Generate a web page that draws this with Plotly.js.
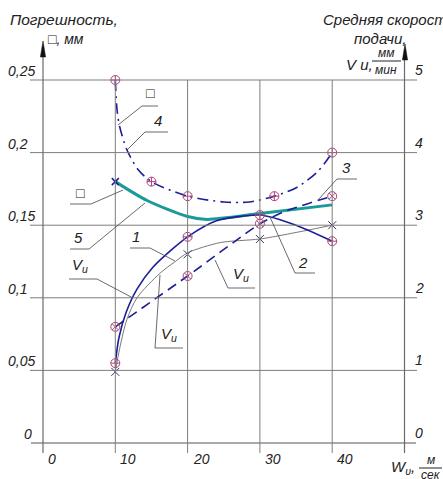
<!DOCTYPE html>
<html><head><meta charset="utf-8">
<script src="https://cdn.plot.ly/plotly-3.0.1.min.js"></script>
<style>html,body{margin:0;padding:0;background:#fff}#c{width:443px;height:479px}</style>
</head><body><div id="c"></div>
<script>
// ---- data ----
const xTicks = [0, 10, 20, 30, 40];
const xTickLabels = ['0', '10', '20', '30', '40'];
const errTicks = [0, 0.05, 0.1, 0.15, 0.2, 0.25];
const errTickLabels = ['0', '0,05', '0,1', '0,15', '0,2', '0,25'];
const velTickLabels = ['0', '1', '2', '3', '4', '5'];

// measured points (markers)
const wPts = [10, 20, 30, 40];
const v1Pts = [0.98, 2.6, 2.81, 3.0];   // curve 1, Vu
const v2Pts = [1.1, 2.84, 3.14, 2.78];  // curve 2, Vu
const v3Pts = [1.6, 2.3, 3.02, 3.4];    // curve 3, Vu
const d4W = [10, 15, 20, 32, 40];
const d4Pts = [0.25, 0.18, 0.17, 0.17, 0.2]; // curve 4, error
const d5W = [10];
const d5Pts = [0.18];                  // curve 5 start

// traced curve shapes
const v1LineW = [10, 10.6, 11.6, 13, 16.2, 18.3, 20, 24.5, 30, 35, 40];
const v1LineV = [0.98, 1.3, 1.7, 2.0, 2.34, 2.5, 2.62, 2.76, 2.81, 2.9, 3.0];
const v2LineW = [10, 10.5, 11.5, 13, 15.2, 18, 20, 24, 30, 35, 40];
const v2LineV = [1.1, 1.45, 1.8, 2.12, 2.42, 2.68, 2.84, 3.06, 3.14, 3.0, 2.78];
const v3LineW = [10, 20, 30, 33.2, 35.5, 38, 40];
const v3LineV = [1.6, 2.3, 3.02, 3.18, 3.26, 3.34, 3.4];
const d4LineW = [10, 10.25, 10.6, 11.6, 13.2, 15, 20, 25, 28.5, 32, 35.1, 38, 40];
const d4LineD = [0.25, 0.229, 0.218, 0.202, 0.188, 0.18, 0.17, 0.166, 0.166, 0.17, 0.176, 0.187, 0.2];
const d5LineW = [10, 14.4, 20, 22.7, 30, 40];
const d5LineD = [0.18, 0.167, 0.156, 0.154, 0.158, 0.164];

// ---- styling ----
const BLUE = '#1c1f96', TEAL = '#1a9a98', THIN = '#555555', MK = '#b0407a', GRID = '#7d7d7d', TXT = '#222';
const FONT = 'Liberation Sans, Arial, sans-serif';
const W = 443, H = 479;
const PX = p => p / W, PY = p => 1 - p / H;

const traces = [
  {x: d5LineW, y: d5LineD, mode: 'lines', line: {color: TEAL, width: 3, shape: 'spline', smoothing: 0.8}, hoverinfo: 'skip'},
  {x: d5W, y: d5Pts, mode: 'markers', marker: {symbol: 'x-thin-open', size: 7, color: BLUE, line: {color: BLUE, width: 1.5}}, hoverinfo: 'skip'},
  {x: d4LineW, y: d4LineD, mode: 'lines', line: {color: BLUE, width: 1.6, shape: 'spline', smoothing: 0.8, dash: '11px,5px,2px,5px'}, hoverinfo: 'skip'},
  {x: d4W, y: d4Pts, mode: 'markers', marker: {symbol: 'circle-cross-open', size: 9, color: MK, line: {color: MK, width: 1}}, hoverinfo: 'skip'},
  {x: v1LineW, y: v1LineV, yaxis: 'y2', mode: 'lines', line: {color: THIN, width: 0.8, shape: 'spline', smoothing: 0.8}, hoverinfo: 'skip'},
  {x: wPts, y: v1Pts, yaxis: 'y2', mode: 'markers', marker: {symbol: 'x-thin-open', size: 8, color: '#333a66', line: {color: '#333a66', width: 1}}, hoverinfo: 'skip'},
  {x: v2LineW, y: v2LineV, yaxis: 'y2', mode: 'lines', line: {color: BLUE, width: 1.6, shape: 'spline', smoothing: 0.7}, hoverinfo: 'skip'},
  {x: wPts, y: v2Pts, yaxis: 'y2', mode: 'markers', marker: {symbol: 'circle-cross-open', size: 9, color: MK, line: {color: MK, width: 1}}, hoverinfo: 'skip'},
  {x: v3LineW, y: v3LineV, yaxis: 'y2', mode: 'lines', line: {color: BLUE, width: 1.6, shape: 'spline', smoothing: 0.6, dash: '10px,6px'}, hoverinfo: 'skip'},
  {x: wPts, y: v3Pts, yaxis: 'y2', mode: 'markers', marker: {symbol: 'circle-x-open', size: 9, color: MK, line: {color: MK, width: 1}}, hoverinfo: 'skip'}
];

const shapes = [];
// horizontal grid lines
errTicks.forEach((t, i) => {
  if (i === 0) return;
  shapes.push({type: 'line', xref: 'paper', yref: 'y', x0: PX(30), x1: PX(417), y0: t, y1: t, line: {color: GRID, width: 1}});
});
// x axis line
shapes.push({type: 'line', xref: 'paper', yref: 'y', x0: PX(31), x1: PX(416), y0: 0, y1: 0, line: {color: '#555', width: 1}});
// vertical grid lines
xTicks.forEach((t, i) => {
  if (i === 0) return;
  shapes.push({type: 'line', xref: 'x', yref: 'paper', x0: t, x1: t, y0: PY(80), y1: PY(453), line: {color: GRID, width: 1}});
});
// left and right axes
shapes.push({type: 'line', xref: 'x', yref: 'paper', x0: 0, x1: 0, y0: PY(50), y1: PY(453), line: {color: '#6a6a6a', width: 1.2}});
shapes.push({type: 'line', xref: 'x', yref: 'paper', x0: 50, x1: 50, y0: PY(52), y1: PY(453), line: {color: '#6a6a6a', width: 1.2}});
// arrow heads
function tri(tx, ty) {
  return {type: 'path', xref: 'paper', yref: 'paper',
    path: `M ${PX(tx)} ${PY(ty)} L ${PX(tx - 2.6)} ${PY(ty + 16)} L ${PX(tx + 2.6)} ${PY(ty + 16)} Z`,
    fillcolor: '#111', line: {color: '#111', width: 0.5}};
}
shapes.push(tri(43, 41));
shapes.push(tri(405, 44));
// leader lines
const leaders = [
  [[158,106],[142,106],[118,125]],
  [[168,132],[145,132],[127,150]],
  [[70,204],[91,204],[123,190]],
  [[70,249],[89,249],[145,203]],
  [[69,279],[97,279],[133,298]],
  [[130,248],[150,248],[175,261]],
  [[160,275],[155,348],[183,348]],
  [[215,260],[228,288],[255,288]],
  [[270,217],[295,273],[315,273]],
  [[357,179],[337,179],[318,200]]
];
leaders.forEach(pts => {
  const d = pts.map((p, i) => (i ? 'L ' : 'M ') + PX(p[0]) + ' ' + PY(p[1])).join(' ');
  shapes.push({type: 'path', xref: 'paper', yref: 'paper', path: d, line: {color: '#444', width: 0.8}});
});
// fraction bars
shapes.push({type: 'line', xref: 'paper', yref: 'paper', x0: PX(372), x1: PX(401), y0: PY(61), y1: PY(61), line: {color: TXT, width: 1}});
shapes.push({type: 'line', xref: 'paper', yref: 'paper', x0: PX(419), x1: PX(442), y0: PY(468), y1: PY(468), line: {color: TXT, width: 1}});

const ann = [];
function txt(s, px, py, size, anchor) {
  ann.push({text: s, xref: 'paper', yref: 'paper', x: PX(px), y: PY(py), xanchor: anchor || 'center', yanchor: 'middle',
    showarrow: false, font: {family: FONT, size: size || 14, color: TXT, style: 'italic'}});
}
// left tick labels
errTicks.forEach((t, i) => {
  const gy = 443 - t / 0.05 * 72.6;
  if (i === 0) txt(errTickLabels[i], 22, gy - 9, 14, 'left');
  else txt(errTickLabels[i], 6, gy - 9, 14, 'left');
});
// right tick labels
velTickLabels.forEach((s, i) => {
  const gy = 443 - i * 72.6;
  txt(s, 419, gy - 10, 14, 'center');
});
// x tick labels
xTicks.forEach((t, i) => {
  ann.push({text: xTickLabels[i], xref: 'x', yref: 'paper', x: t, y: PY(459), xanchor: 'left', yanchor: 'middle', xshift: 3,
    showarrow: false, font: {family: FONT, size: 14, color: TXT, style: 'italic'}});
});
// titles
txt('Погрешность,', 8, 19, 15.5, 'left');
txt('□, мм', 46, 39, 14, 'left');
txt('Средняя скорость', 321, 19, 15, 'left');
txt('подачи,', 352, 38, 15, 'left');
txt('V u,', 344, 64, 15, 'left');
txt('мм', 386, 53, 12, 'center');
txt('мин', 386, 70, 12, 'center');
txt('W<sub>υ</sub>,', 389, 467, 15, 'left');
txt('м', 431, 460, 12, 'center');
txt('сек', 431, 475, 12, 'center');
// curve labels
txt('□', 150, 93, 14);
txt('4', 158, 120, 15);
txt('□', 80, 193, 14);
txt('5', 78, 237, 15);
txt('V<sub>u</sub>', 80, 265, 15);
txt('1', 136, 236, 15);
txt('V<sub>u</sub>', 169, 334, 15);
txt('V<sub>u</sub>', 241, 274, 15);
txt('2', 303, 262, 15);
txt('3', 346, 167, 15);

const layout = {
  width: W, height: H, margin: {l: 0, r: 0, t: 0, b: 0},
  paper_bgcolor: '#fff', plot_bgcolor: '#fff', showlegend: false,
  xaxis: {range: [-43 / 7.23, 400 / 7.23], visible: false, fixedrange: true},
  yaxis: {range: [-36 / 1452, 443 / 1452], visible: false, fixedrange: true},
  yaxis2: {range: [-36 / 72.6, 443 / 72.6], overlaying: 'y', visible: false, fixedrange: true},
  shapes: shapes, annotations: ann
};
Plotly.newPlot('c', traces, layout, {staticPlot: true, displayModeBar: false});
</script>
</body></html>
